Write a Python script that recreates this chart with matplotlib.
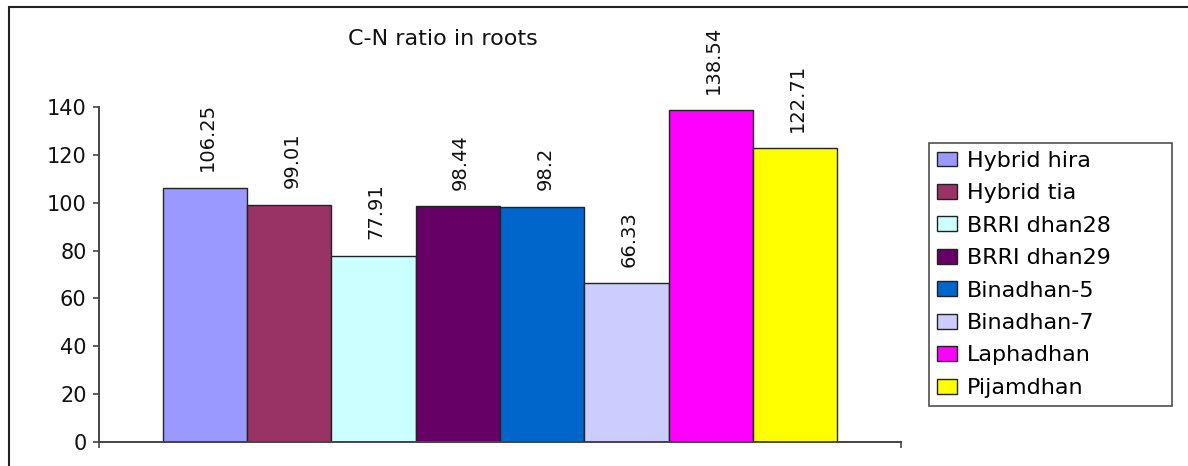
import matplotlib
matplotlib.use("Agg")
import matplotlib.pyplot as plt
from matplotlib.patches import Rectangle

# C-N ratio in roots for each rice variety
varieties = ["Hybrid hira", "Hybrid tia", "BRRI dhan28", "BRRI dhan29",
             "Binadhan-5", "Binadhan-7", "Laphadhan", "Pijamdhan"]
cn_ratio = [106.25, 99.01, 77.91, 98.44, 98.2, 66.33, 138.54, 122.71]
bar_colors = ["#9999FF", "#993366", "#CCFFFF", "#660066",
              "#0066CC", "#CCCCFF", "#FF00FF", "#FFFF00"]
y_ticks = [0, 20, 40, 60, 80, 100, 120, 140]

plt.rcParams["font.family"] = ["DejaVu Sans"]

W, H = 1188, 466
fig = plt.figure(figsize=(W / 100, H / 100), dpi=100)
ax = fig.add_axes([99 / W, 1 - 442 / H, (901 - 99) / W, (442 - 107) / H])

# one bar per variety, so each one gets its own legend entry
for i, (name, val, col) in enumerate(zip(varieties, cn_ratio, bar_colors)):
    ax.bar(i, val, width=1.0, color=col, edgecolor="#222222", linewidth=1.0, label=name)
    ax.annotate(str(val), xy=(i, val), xytext=(2, 12), textcoords="offset points",
                rotation=90, ha="center", va="bottom", fontsize=14, color="#111111")

ax.set_xlim(-1.258, 8.258)
ax.set_ylim(0, 140)
ax.set_yticks(y_ticks)
ax.set_yticklabels([str(t) for t in y_ticks], fontsize=15, color="#111111")
ax.set_xticks([-1.258, 8.258])
ax.set_xticklabels(["", ""])
ax.tick_params(axis="both", direction="out", length=4, width=1.2, color="#444444")
ax.tick_params(axis="y", pad=5)

for side in ["top", "right"]:
    ax.spines[side].set_visible(False)
for side in ["left", "bottom"]:
    ax.spines[side].set_color("#444444")
    ax.spines[side].set_linewidth(1.4)

fig.text(443 / W, 1 - 39 / H, "C-N ratio in roots", ha="center", va="center",
         fontsize=16, color="#111111")

leg = fig.legend(loc="upper left",
                 bbox_to_anchor=(929 / W, 1 - 401 / H, (1172 - 929) / W, (401 - 143) / H),
                 mode="expand", fontsize=16, frameon=True, fancybox=False, shadow=False,
                 borderaxespad=0, handlelength=0.9, handleheight=0.65, handletextpad=0.45,
                 labelspacing=0.56, borderpad=0.35)
leg.get_frame().set_edgecolor("#222222")
leg.get_frame().set_linewidth(1.2)

# outer chart-area border
fig.patches.append(Rectangle((9 / W, -0.1), 1.2, 1 - 7 / H + 0.1, transform=fig.transFigure,
                             fill=False, edgecolor="#222222", linewidth=1.5))

fig.savefig("out.png", dpi=100)
